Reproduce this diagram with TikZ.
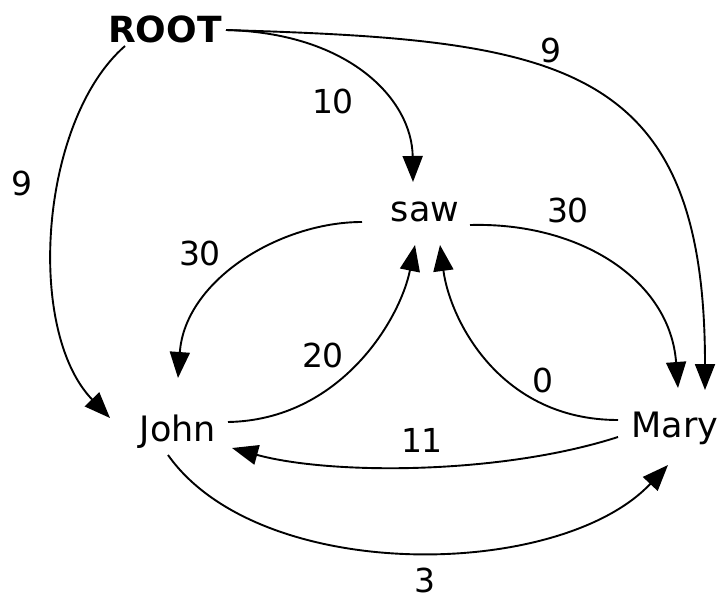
\documentclass[tikz,border=0pt]{standalone}
\usepackage{fontspec}
\setmainfont{DejaVu Sans}
\usetikzlibrary{arrows.meta}
\begin{document}
\begin{tikzpicture}[x=1pt,y=-1pt,
  word/.style={inner sep=0pt,font=\fontsize{35}{42}\selectfont},
  wlabel/.style={inner sep=0pt,font=\fontsize{33}{40}\selectfont},
  edge/.style={line width=1.9pt,-{Triangle[length=26pt,width=20pt]}}]
\useasboundingbox (0,0) rectangle (720,602);
\node[word,font=\fontsize{36}{42}\selectfont\bfseries] (root) at (165,29) {ROOT};
\node[word] (saw) at (425,212) {saw};
\node[word] (john) at (178,432) {John};
\node[word] (mary) at (675,428) {Mary};
% edge labels
\node[wlabel] (l10) at (333,101) {10};
\node[wlabel] (l9a) at (551,50) {9};
\node[wlabel] (l9b) at (22,183) {9};
\node[wlabel] (l30a) at (200,253) {30};
\node[wlabel] (l30b) at (568,210) {30};
\node[wlabel] (l20) at (323,355) {20};
\node[wlabel] (l0) at (543,380) {0};
\node[wlabel] (l11) at (422,440) {11};
\node[wlabel] (l3) at (425,580) {3};
% edges
\draw[edge] ([shift={(61,1)}]root.center) .. controls (350,33) and (412,100) .. ([shift={(-12,-30)}]saw.center);
\draw[edge] ([shift={(61,1)}]root.center) .. controls (560,40) and (705,60) .. ([shift={(30,-38)}]mary.center);
\draw[edge] ([shift={(-40,17)}]root.center) .. controls (40,120) and (25,330) .. ([shift={(-68,-14)}]john.center);
\draw[edge] ([shift={(-63,10)}]saw.center) .. controls (280,222) and (185,280) .. ([shift={(0,-54)}]john.center);
\draw[edge] ([shift={(45,13)}]saw.center) .. controls (580,222) and (670,280) .. ([shift={(3,-40)}]mary.center);
\draw[edge] ([shift={(50,-10)}]john.center) .. controls (340,420) and (400,320) .. ([shift={(-10,33)}]saw.center);
\draw[edge] ([shift={(-57,-8)}]mary.center) .. controls (500,420) and (450,320) .. ([shift={(15,33)}]saw.center);
\draw[edge] ([shift={(-57,9)}]mary.center) .. controls (500,475) and (330,475) .. ([shift={(54,16)}]john.center);
\draw[edge] ([shift={(-10,23)}]john.center) .. controls (260,585) and (560,580) .. ([shift={(-7,37)}]mary.center);
\end{tikzpicture}
\end{document}
